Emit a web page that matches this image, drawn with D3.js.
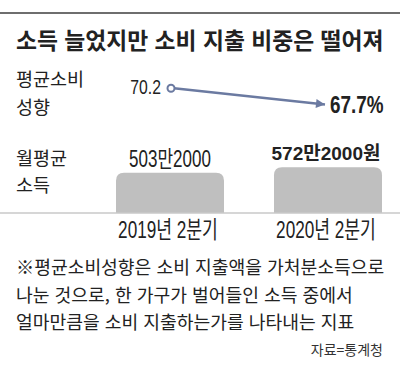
<!DOCTYPE html>
<html lang="ko">
<head>
  <meta charset="UTF-8" />
  <title>소득 늘었지만 소비 지출 비중은 떨어져</title>
  <script src="https://d3js.org/d3.v7.min.js"></script>
  <style>
    body {
      margin: 0;
      background: #fff;
      overflow: hidden;
    }
    text {
      font-family: "Noto Sans CJK KR", sans-serif;
      fill: #222;
    }
    .num {
      font-family: "Liberation Sans", "Noto Sans CJK KR", sans-serif;
    }
  </style>
</head>
<body>
  <script>
    // Data
    const periods = ["2019년 2분기", "2020년 2분기"];
    const propensity = [70.2, 67.7];           // 평균소비성향 (%)
    const income = [503.2, 572.2];             // 월평균 소득 (만원)
    const incomeLabels = ["503만2000", "572만2000원"];
    const propLabels = ["70.2", "67.7%"];
    const noteLines = [
      "※평균소비성향은 소비 지출액을 가처분소득으로",
      "나눈 것으로, 한 가구가 벌어들인 소득 중에서",
      "얼마만큼을 소비 지출하는가를 나타내는 지표"
    ];

    const width = 400, height = 373;

    const svg = d3.select("body").append("svg")
      .attr("width", width)
      .attr("height", height);

    // place a horizontally condensed text at (px, py)
    const at = (px, py, s) => `translate(${px},${py}) scale(${s},1)`;

    // Top rule
    svg.append("line")
      .attr("x1", 0).attr("x2", width)
      .attr("y1", 13).attr("y2", 13)
      .attr("stroke", "#6e6e6e")
      .attr("stroke-width", 2);

    // Title
    svg.append("text")
      .attr("x", 16).attr("y", 49)
      .style("font-size", "22.8px")
      .style("font-weight", "bold")
      .text("소득 늘었지만 소비 지출 비중은 떨어져");

    // Row labels
    const rowLabels = [["평균소비", 86], ["성향", 114], ["월평균", 165], ["소득", 192]];
    svg.selectAll(".row-label")
      .data(rowLabels)
      .enter().append("text")
      .attr("class", "row-label")
      .attr("x", 16)
      .attr("y", d => d[1])
      .style("font-size", "18.5px")
      .text(d => d[0]);

    // Scales
    const x = d3.scaleBand()
      .domain(periods)
      .range([116, 382])
      .paddingInner(50 / 158)
      .paddingOuter(0);

    const baseY = 213;
    const yBar = d3.scaleLinear().domain([0, 600]).range([baseY, baseY - 48]);
    const yLine = d3.scaleLinear().domain([67.7, 70.2]).range([104.5, 88.3]);

    // Bars (rounded top corners)
    const r = 8;
    svg.selectAll(".bar")
      .data(income)
      .enter().append("path")
      .attr("class", "bar")
      .attr("fill", "#bfbfbf")
      .attr("d", (d, i) => {
        const x0 = x(periods[i]), x1 = x0 + x.bandwidth();
        const y0 = yBar(d), y1 = baseY;
        return `M${x0},${y1}V${y0 + r}Q${x0},${y0} ${x0 + r},${y0}H${x1 - r}Q${x1},${y0} ${x1},${y0 + r}V${y1}Z`;
      });

    // Baseline
    svg.append("line")
      .attr("x1", 0).attr("x2", width)
      .attr("y1", baseY).attr("y2", baseY)
      .attr("stroke", "#c9c9c9")
      .attr("stroke-width", 1.5);

    // Income labels
    svg.selectAll(".inc-label")
      .data(income)
      .enter().append("text")
      .attr("class", "inc-label num")
      .attr("transform", (d, i) => at(x(periods[i]) + x.bandwidth() / 2 + (i ? -2 : 0), yBar(d) - (i ? 7 : 6), i ? 1 : 0.74))
      .attr("text-anchor", "middle")
      .style("font-size", (d, i) => i ? "19px" : "23px")
      .style("font-weight", (d, i) => i ? "bold" : "normal")
      .text((d, i) => incomeLabels[i]);

    // Period labels
    svg.selectAll(".period")
      .data(periods)
      .enter().append("text")
      .attr("class", "period num")
      .attr("transform", d => at(x(d) + x.bandwidth() / 2 - 2, 238, 0.73))
      .attr("text-anchor", "middle")
      .style("font-size", "23.5px")
      .text(d => d);

    // Propensity arrow
    const cx = i => x(periods[i]) + x.bandwidth() / 2;
    svg.append("defs").append("marker")
      .attr("id", "arrow")
      .attr("viewBox", "0 0 10 10")
      .attr("refX", 10).attr("refY", 5)
      .attr("markerWidth", 4.5).attr("markerHeight", 3.6)
      .attr("markerUnits", "strokeWidth")
      .attr("orient", "auto")
      .append("path")
      .attr("d", "M0,0L10,5L0,10Z")
      .attr("fill", "#6b7aa1");

    svg.append("line")
      .attr("x1", cx(0) + 4).attr("y1", yLine(propensity[0]))
      .attr("x2", cx(1) - 3).attr("y2", yLine(propensity[1]))
      .attr("stroke", "#6b7aa1")
      .attr("stroke-width", 2.5)
      .attr("marker-end", "url(#arrow)");

    svg.append("circle")
      .attr("cx", cx(0) + 1).attr("cy", yLine(propensity[0]))
      .attr("r", 3.5)
      .attr("fill", "#fff")
      .attr("stroke", "#6b7aa1")
      .attr("stroke-width", 2);

    svg.append("text")
      .attr("class", "num")
      .attr("transform", at(161, 94, 0.75))
      .attr("text-anchor", "end")
      .style("font-size", "21px")
      .text(propLabels[0]);

    svg.append("text")
      .attr("class", "num")
      .attr("transform", at(330, 113.3, 0.82))
      .style("font-size", "23px")
      .style("font-weight", "bold")
      .text(propLabels[1]);

    // Footnote
    svg.selectAll(".note")
      .data(noteLines)
      .enter().append("text")
      .attr("class", "note")
      .attr("x", 16)
      .attr("y", (d, i) => 274 + i * 27.5)
      .style("font-size", "18.2px")
      .text(d => d);

    svg.append("text")
      .attr("x", 383).attr("y", 355)
      .attr("text-anchor", "end")
      .style("font-size", "14px")
      .style("fill", "#333")
      .text("자료=통계청");
  </script>
</body>
</html>
